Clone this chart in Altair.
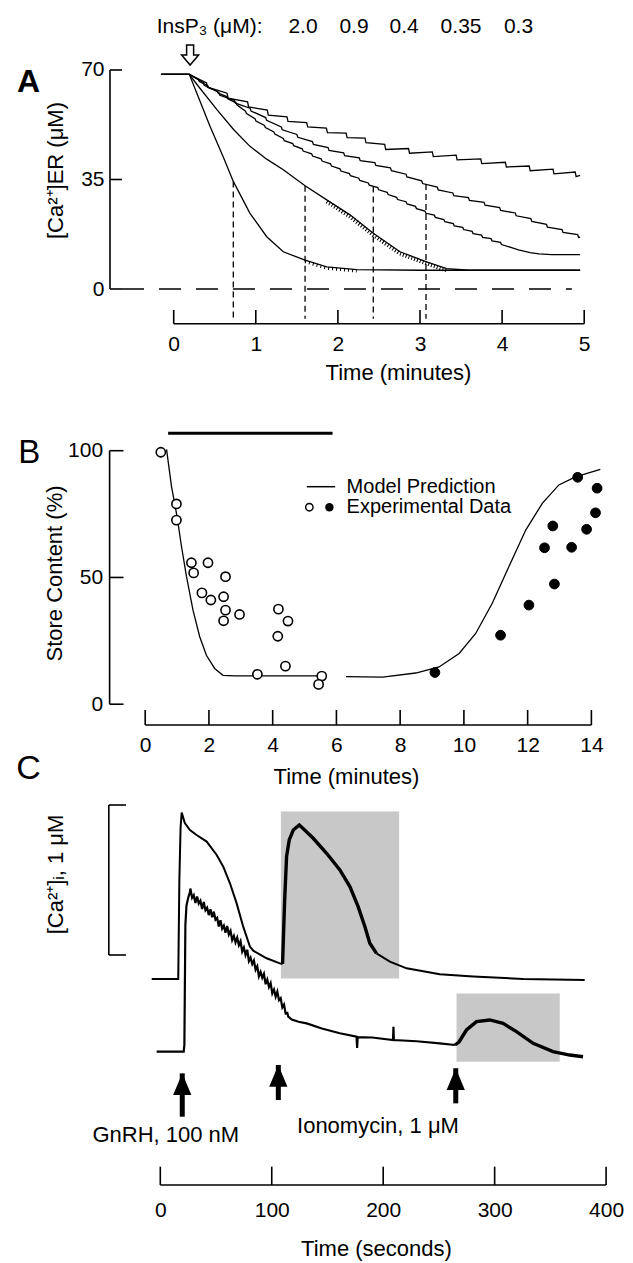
import altair as alt
import pandas as pd

W, H = 633, 1263
FONT = "Liberation Sans"

# ---------------- Panel A : [Ca2+]ER vs time (min) ----------------
A_insp3_text = "InsP\u2083 (\u03bcM):"
A_insp3_vals = ["2.0", "0.9", "0.4", "0.35", "0.3"]
A_insp3_t = [1.575, 2.196, 2.806, 3.50, 4.20]

A_start_t = [-0.15, 0.19]
A_start_v = [68.6, 68.6]

A_c1_t = [0.30, 0.442, 0.60, 0.726, 0.929, 1.133, 1.335, 1.60, 1.864, 2.229, 3.0, 4.95]
A_c1_v = [61.4, 52.0, 42.4, 34.4, 24.2, 16.7, 11.9, 9.2, 7.1, 6.2, 6.0, 6.0]

A_c2_t = [0.30, 0.524, 0.729, 0.929, 1.133, 1.335, 1.60, 1.864, 2.147, 2.431, 2.756, 3.08, 3.325, 3.60, 4.95]
A_c2_v = [64.8, 57.4, 51.0, 45.6, 41.5, 38.1, 33.0, 28.5, 23.7, 17.8, 11.9, 8.7, 6.5, 6.0, 6.0]

A_c3_tt = [0.30, 0.415, 0.53, 0.645, 0.76, 0.875, 0.99, 1.105, 1.22, 1.335, 1.45, 1.565, 1.68,
           1.795, 1.91, 2.025, 2.14, 2.255, 2.37, 2.485, 2.60, 2.715, 2.83, 2.945, 3.06, 3.175,
           3.29, 3.405, 3.52, 3.635, 3.75, 3.865, 3.98]
A_c3_hi = [67.0, 65.0, 63.3, 61.5, 59.5, 56.8, 54.4, 52.3, 50.2, 48.1, 46.5, 44.8, 43.2, 41.6,
           40.0, 38.4, 36.9, 35.4, 33.9, 32.4, 30.9, 29.3, 27.9, 26.4, 24.9, 23.6, 22.2, 20.9,
           19.7, 18.4, 17.2, 16.1, 14.9]
A_c3_lo = [66.3, 64.3, 62.6, 60.8, 58.8, 56.1, 53.7, 51.6, 49.5, 47.4, 45.8, 44.1, 42.5, 40.9,
           39.3, 37.7, 36.2, 34.7, 33.2, 31.7, 30.2, 28.6, 27.2, 25.7, 24.2, 22.9, 21.5, 20.2,
           19.0, 17.7, 16.5, 15.4, 14.2]
A_c3_tail_t = [4.096, 4.2, 4.34, 4.45, 4.6, 4.95]
A_c3_tail_v = [13.4, 12.5, 11.6, 11.2, 11.0, 11.0]

A_c4_tt = [0.36, 0.55, 0.74, 0.93, 1.12, 1.31, 1.50, 1.69, 1.88, 2.07, 2.26, 2.45, 2.64, 2.83,
           3.02, 3.21, 3.40, 3.59, 3.78, 3.97, 4.16, 4.35, 4.54, 4.73, 4.92]
A_c4_hi = [66.0, 62.8, 60.3, 57.8, 54.8, 51.8, 49.4, 47.1, 45.2, 43.5, 41.9, 40.4, 38.7, 36.7,
           34.6, 32.6, 30.7, 29.2, 27.7, 26.0, 24.3, 22.5, 20.7, 19.0, 17.4]
A_c4_lo = [65.1, 61.9, 59.4, 56.9, 53.9, 50.9, 48.5, 46.2, 44.3, 42.6, 41.0, 39.5, 37.8, 35.8,
           33.7, 31.7, 29.8, 28.3, 26.8, 25.1, 23.4, 21.6, 19.8, 18.1, 16.5]
A_c4_tail_t = [4.95]
A_c4_tail_v = [16.6]

A_c5_tt = [0.40, 0.65, 0.90, 1.14, 1.38, 1.62, 1.86, 2.10, 2.33, 2.57, 2.86, 3.15, 3.44, 3.74,
           4.04, 4.33, 4.62, 4.89]
A_c5_hi = [65.9, 62.6, 59.8, 57.2, 55.0, 53.2, 51.4, 49.8, 48.2, 46.2, 44.9, 43.8, 42.8, 41.6,
           40.5, 39.3, 38.3, 37.4]
A_c5_lo = [64.5, 61.0, 58.2, 55.6, 53.6, 51.8, 50.0, 48.4, 46.8, 44.6, 43.4, 42.3, 41.3, 40.1,
           39.0, 37.8, 36.8, 35.9]
A_c5_tail_t = [4.95]
A_c5_tail_v = [36.3]

# hatched (fast-oscillation) stretches of the 0.9 and 2.0 traces
A_h2_t = [1.864, 2.147, 2.431, 2.756, 3.08, 3.325]
A_h2_v = [28.5, 23.7, 17.8, 11.9, 8.7, 6.5]
A_h1_t = [1.60, 1.864, 2.229]
A_h1_v = [9.2, 7.1, 6.2]

A_half_t = [0.726, 1.60, 2.431, 3.073]
A_half_v = [34.4, 33.0, 32.8, 33.6]
A_yticks = [0, 35, 70]
A_xticks = [0, 1, 2, 3, 4, 5]
A_arrow_t = [0.20]

# ---------------- Panel B : store content ----------------
B_model1_t = [0.67, 0.826, 1.0, 1.14, 1.296, 1.5, 1.71, 1.92, 2.18, 2.44, 2.8, 5.6]
B_model1_v = [100.5, 85.8, 74.0, 62.1, 50.3, 37.1, 26.6, 19.3, 14.1, 11.4, 11.2, 11.2]
B_model2_t = [6.3, 7.45, 8.49, 9.22, 9.85, 10.37, 10.89, 11.41, 11.94, 12.46, 12.98, 13.5, 14.28]
B_model2_v = [10.9, 10.7, 12.3, 14.7, 20.0, 27.9, 39.8, 54.2, 68.7, 79.2, 86.5, 89.7, 92.6]
B_open_t = [0.49, 0.98, 0.98, 1.45, 1.52, 1.97, 1.78, 2.06, 2.52, 2.46, 2.52, 2.46, 2.96, 3.52,
            4.18, 4.16, 4.48, 4.40, 5.54, 5.44]
B_open_v = [99.4, 79.0, 72.6, 55.8, 51.8, 55.8, 43.9, 41.1, 50.3, 42.4, 37.1, 32.9, 35.4, 11.8,
            37.5, 26.8, 32.8, 15.0, 11.1, 7.8]
B_fill_t = [9.09, 11.15, 12.04, 12.53, 12.79, 12.84, 13.38, 13.57, 13.85, 14.13, 14.18]
B_fill_v = [12.5, 27.2, 39.1, 61.7, 70.3, 47.4, 61.9, 89.5, 69.0, 75.5, 85.2]
B_bar_t = [0.72, 5.88]
B_yticks = [0, 50, 100]
B_xticks = [0, 2, 4, 6, 8, 10, 12, 14]
B_legend_labels = ["Model Prediction", "Experimental Data"]

# ---------------- Panel C : [Ca2+]i traces (s) ----------------
C_up1_t = [-7.7, 16.1, 17.1, 18.2, 19.2, 22.0, 26.6, 32.6, 41.6, 50.6, 56.5, 62.5, 68.5, 74.4,
           80.4, 83.4, 95.4, 107.3, 109.7]
C_up1_v = [-0.16, -0.16, 0.5, 0.85, 0.949, 0.88, 0.833, 0.80, 0.756, 0.667, 0.589, 0.478, 0.344,
           0.189, 0.056, 0.029, -0.022, -0.056, -0.06]
C_up2_t = [109.7, 111.5, 113.3, 115.7, 119.3, 124.7, 130.0, 137.2, 149.2, 161.1, 170.1, 177.5,
           183.6, 188.0, 194.0]
C_up2_v = [-0.06, 0.35, 0.656, 0.767, 0.833, 0.867, 0.83, 0.778, 0.678, 0.567, 0.456, 0.322,
           0.189, 0.078, 0.011]
C_up3_t = [194.0, 206.0, 221.0, 250.8, 280.7, 325.5, 380.8]
C_up3_v = [0.011, -0.044, -0.089, -0.129, -0.144, -0.16, -0.167]

C_low1_t = [-3.3, 21.0, 21.6, 22.5, 23.5, 25.0, 26.6,
            27, 28.5, 30, 31.5, 33, 34.5, 36, 37.5, 39, 40.5, 42, 43.5, 45, 46.5, 48, 49.5, 51,
            52.5, 54, 55.5, 57, 58.5, 60, 61.5, 63, 64.5, 66, 67.5, 69, 70.5, 72, 73.5, 75, 76.5,
            78, 79.5, 81, 82.5, 84, 85.5, 87, 88.5, 90, 91.5, 93, 94.5, 96, 97.5, 99, 100.5, 102,
            103.5, 105, 106.5, 108, 109.5, 111, 112.5, 114,
            114.8, 118, 124, 131.3, 145, 161.1, 176.1, 176.6, 177.1, 190, 208.8, 209.2, 209.6,
            230, 250.8, 264.3]
C_low1_v = [-0.644, -0.644, -0.6, 0.2, 0.33, 0.38, 0.42,
            0.443, 0.381, 0.399, 0.347, 0.390, 0.343, 0.362, 0.307, 0.353, 0.299, 0.315, 0.266,
            0.305, 0.252, 0.289, 0.236, 0.248, 0.190, 0.232, 0.176, 0.195, 0.149, 0.193, 0.137,
            0.161, 0.100, 0.127, 0.084, 0.115, 0.066, 0.092, 0.023, 0.049, 0.000, 0.035, -0.041,
            -0.018, -0.060, -0.037, -0.098, -0.075, -0.142, -0.113, -0.152, -0.126, -0.195,
            -0.164, -0.213, -0.187, -0.256, -0.231, -0.278, -0.244, -0.301, -0.288, -0.349,
            -0.330, -0.391, -0.387,
            -0.411, -0.43, -0.445, -0.456, -0.49, -0.522, -0.544, -0.62, -0.547, -0.55, -0.567,
            -0.478, -0.567, -0.575, -0.589, -0.6]
C_low2_t = [264.3, 268, 274.7, 283.7, 295.6, 307.6, 319.6, 334.5, 352.4, 367.4, 379.3]
C_low2_v = [-0.6, -0.58, -0.5, -0.444, -0.433, -0.456, -0.511, -0.589, -0.644, -0.667, -0.678]

C_rect_t1 = [108.2, 265.8]
C_rect_t2 = [214.3, 358.4]
C_rect_v1 = [-0.156, -0.711]
C_rect_v2 = [0.956, -0.256]
C_arrow_t = [19.7, 105.9, 265.1]
C_arrow_top = [-0.789, -0.733, -0.755]
C_arrow_bot = [-1.078, -0.967, -0.989]
C_labels = ["GnRH, 100 nM", "Ionomycin, 1 \u03bcM"]
C_label_t = [4.9, 195.3]
C_label_v = [-1.245, -1.185]
C_xticks = [0, 100, 200, 300, 400]

# ---------------- scale calibration (pixel anchors of each panel) ----------------
def sc(x0, xs, y0, ys):
    xd = [(0 - x0) / xs, (W - x0) / xs]
    yd = [(y0 - H) / ys, y0 / ys]
    return (alt.Scale(domain=xd, nice=False, zero=False),
            alt.Scale(domain=yd, nice=False, zero=False))

xA, yA = sc(173.7, 82.1, 289.0, 3.1286)
xB, yB = sc(145.2, 31.87, 704.2, 2.535)
xC, yC = sc(160.3, 1.1145, 955.0, 150.0)

# axis-frame positions in data units
A_YAX_T, A_YTICK_T2 = -0.776, -0.63
A_XAX_V, A_XTICK_V2 = -11.1, -6.7
A_ZERO_T = [-0.63, 4.85]
A_DROP_BOTTOM = -9.5
B_YAX_T, B_YTICK_T2 = -1.117, -0.681
B_XAX_V, B_XTICK_V2 = -8.2, -2.29
B_BAR_V = 106.9
C_BAR_T, C_BAR_T2 = -46.2, -30.8
C_XAX_V, C_XTICK_V2 = -1.533, -1.411


def enc(xs, ys, x="t", y="v", xaxis=None, yaxis=None):
    return dict(x=alt.X(f"{x}:Q", scale=xs, axis=xaxis), y=alt.Y(f"{y}:Q", scale=ys, axis=yaxis))


def line_layer(ts, vs, xs, ys, **mk):
    df = pd.DataFrame({"t": ts, "v": vs, "i": range(len(ts))})
    return alt.Chart(df).mark_line(color="black", **mk).encode(
        **enc(xs, ys), order=alt.Order("i:Q"))


def teeth(tt, hi, lo, tail_t, tail_v):
    ts, vs = list(A_start_t), list(A_start_v)
    for a, h, l in zip(tt, hi, lo):
        ts += [a, a + 0.012]
        vs += [h, l]
    return ts + list(tail_t), vs + list(tail_v)


layers = []

# ======== Panel A ========
layers.append(alt.Chart(pd.DataFrame({"t": [A_ZERO_T[0]], "t2": [A_ZERO_T[1]], "v": [0]}))
              .mark_rule(color="black", strokeWidth=1.5, strokeDash=[22, 15])
              .encode(**enc(xA, yA), x2="t2:Q"))
layers.append(alt.Chart(pd.DataFrame({"t": [A_YAX_T], "v": [0], "v2": [70]}))
              .mark_rule(color="black", strokeWidth=1.6).encode(**enc(xA, yA), y2="v2:Q"))
layers.append(alt.Chart(pd.DataFrame({"t": [A_YAX_T] * 3, "t2": [A_YTICK_T2] * 3, "v": A_yticks}))
              .mark_rule(color="black", strokeWidth=1.6)
              .encode(**enc(xA, yA, yaxis=alt.Axis(
                  orient="left", offset=-110, values=A_yticks, domain=False, ticks=False,
                  tickSize=0, labelPadding=6, labelBaseline="middle",
                  title="[Ca\u00b2\u207a]ER (\u03bcM)", titleAngle=270, titleX=-55, titleY=170,
                  titleAlign="center", titleBaseline="middle")), x2="t2:Q"))
layers.append(alt.Chart(pd.DataFrame({"t": [0], "t2": [5], "v": [A_XAX_V]}))
              .mark_rule(color="black", strokeWidth=1.6).encode(**enc(xA, yA), x2="t2:Q"))
layers.append(alt.Chart(pd.DataFrame({"t": A_xticks, "v": [A_XAX_V] * 6, "v2": [A_XTICK_V2] * 6}))
              .mark_rule(color="black", strokeWidth=1.6)
              .encode(**enc(xA, yA, xaxis=alt.Axis(
                  orient="bottom", offset=323.3 - H, values=A_xticks, format="d", domain=False,
                  ticks=False, tickSize=0, labelPadding=10, title="Time (minutes)",
                  titleX=398, titleY=49, titleAlign="center", titleBaseline="middle")),
                  y2="v2:Q"))

layers.append(line_layer(A_start_t + A_c1_t, A_start_v + A_c1_v, xA, yA, strokeWidth=1.3))
layers.append(line_layer(A_start_t + A_c2_t, A_start_v + A_c2_v, xA, yA, strokeWidth=1.3))
layers.append(line_layer(A_h2_t, A_h2_v, xA, yA, strokeWidth=4, strokeDash=[1, 2], yOffset=1.8))
layers.append(line_layer(A_h1_t, A_h1_v, xA, yA, strokeWidth=3, strokeDash=[1, 3], yOffset=1.5))
for tt, hi, lo, tl, tv in [(A_c3_tt, A_c3_hi, A_c3_lo, A_c3_tail_t, A_c3_tail_v),
                           (A_c4_tt, A_c4_hi, A_c4_lo, A_c4_tail_t, A_c4_tail_v),
                           (A_c5_tt, A_c5_hi, A_c5_lo, A_c5_tail_t, A_c5_tail_v)]:
    ts, vs = teeth(tt, hi, lo, tl, tv)
    layers.append(line_layer(ts, vs, xA, yA, strokeWidth=1.3))

layers.append(alt.Chart(pd.DataFrame({"t": A_half_t, "v": A_half_v,
                                      "v2": [A_DROP_BOTTOM] * len(A_half_t)}))
              .mark_rule(color="black", strokeWidth=1.3, strokeDash=[6, 4])
              .encode(**enc(xA, yA), y2="v2:Q"))

layers.append(alt.Chart(pd.DataFrame({"t": A_arrow_t, "v": [78.0]}))
              .mark_point(shape="M-0.35,0L0.35,0L0.35,1L0.85,1L0,2L-0.85,1L-0.35,1Z",
                          size=400, filled=True, fill="white", stroke="black", strokeWidth=1.5,
                          opacity=1)
              .encode(**enc(xA, yA)))

layers.append(alt.Chart(pd.DataFrame({"t": [-0.207], "v": [81.7], "s": [A_insp3_text]}))
              .mark_text(font=FONT, fontSize=21, align="left", baseline="alphabetic",
                         color="black")
              .encode(**enc(xA, yA), text="s:N"))
layers.append(alt.Chart(pd.DataFrame({"t": A_insp3_t, "v": [81.7] * 5, "s": A_insp3_vals}))
              .mark_text(font=FONT, fontSize=21, align="center", baseline="alphabetic",
                         color="black")
              .encode(**enc(xA, yA), text="s:N"))
layers.append(alt.Chart(pd.DataFrame({"t": [-1.769], "v": [63.1], "s": ["A"]}))
              .mark_text(font=FONT, fontSize=32, fontWeight="bold", align="center",
                         baseline="alphabetic", color="black")
              .encode(**enc(xA, yA), text="s:N"))

# ======== Panel B ========
layers.append(alt.Chart(pd.DataFrame({"t": [B_YAX_T], "v": [0], "v2": [100]}))
              .mark_rule(color="black", strokeWidth=1.6).encode(**enc(xB, yB), y2="v2:Q"))
layers.append(alt.Chart(pd.DataFrame({"t": [B_YAX_T] * 3, "t2": [B_YTICK_T2] * 3, "v": B_yticks}))
              .mark_rule(color="black", strokeWidth=1.6)
              .encode(**enc(xB, yB, yaxis=alt.Axis(
                  orient="left", offset=-109.6, values=B_yticks, domain=False, ticks=False,
                  tickSize=0, labelPadding=7, labelBaseline="middle",
                  title="Store Content (%)", titleAngle=270, titleX=-55.6, titleY=573,
                  titleAlign="center", titleBaseline="middle")), x2="t2:Q"))
layers.append(alt.Chart(pd.DataFrame({"t": [0], "t2": [14], "v": [B_XAX_V]}))
              .mark_rule(color="black", strokeWidth=1.6).encode(**enc(xB, yB), x2="t2:Q"))
layers.append(alt.Chart(pd.DataFrame({"t": B_xticks, "v": [B_XAX_V] * 8, "v2": [B_XTICK_V2] * 8}))
              .mark_rule(color="black", strokeWidth=1.6)
              .encode(**enc(xB, yB, xaxis=alt.Axis(
                  orient="bottom", offset=725 - H, values=B_xticks, format="d", domain=False,
                  ticks=False, tickSize=0, labelPadding=9, title="Time (minutes)",
                  titleX=346, titleY=51, titleAlign="center", titleBaseline="middle")),
                  y2="v2:Q"))
layers.append(alt.Chart(pd.DataFrame({"t": [B_bar_t[0]], "t2": [B_bar_t[1]], "v": [B_BAR_V]}))
              .mark_rule(color="black", strokeWidth=3).encode(**enc(xB, yB), x2="t2:Q"))
layers.append(line_layer(B_model1_t, B_model1_v, xB, yB, strokeWidth=1.3))
layers.append(line_layer(B_model2_t, B_model2_v, xB, yB, strokeWidth=1.3))
layers.append(alt.Chart(pd.DataFrame({"t": B_open_t, "v": B_open_v}))
              .mark_point(shape="circle", size=85, filled=True, fill="white", stroke="black",
                          strokeWidth=1.6, opacity=1)
              .encode(**enc(xB, yB)))
layers.append(alt.Chart(pd.DataFrame({"t": B_fill_t, "v": B_fill_v}))
              .mark_point(shape="circle", size=95, filled=True, fill="black", stroke="black",
                          strokeWidth=1, opacity=1)
              .encode(**enc(xB, yB)))
# legend
layers.append(alt.Chart(pd.DataFrame({"t": [5.07], "t2": [5.96], "v": [85.8]}))
              .mark_rule(color="black", strokeWidth=1.5).encode(**enc(xB, yB), x2="t2:Q"))
layers.append(alt.Chart(pd.DataFrame({"t": [5.15], "v": [77.7]}))
              .mark_point(shape="circle", size=55, filled=True, fill="white", stroke="black",
                          strokeWidth=1.4, opacity=1).encode(**enc(xB, yB)))
layers.append(alt.Chart(pd.DataFrame({"t": [5.78], "v": [77.7]}))
              .mark_point(shape="circle", size=70, filled=True, fill="black", opacity=1)
              .encode(**enc(xB, yB)))
layers.append(alt.Chart(pd.DataFrame({"t": [6.32, 6.32], "v": [85.8, 77.7], "s": B_legend_labels}))
              .mark_text(font=FONT, fontSize=20, align="left", baseline="middle", color="black")
              .encode(**enc(xB, yB), text="s:N"))
layers.append(alt.Chart(pd.DataFrame({"t": [-3.636], "v": [95.0], "s": ["B"]}))
              .mark_text(font=FONT, fontSize=33, align="center", baseline="alphabetic",
                         color="black")
              .encode(**enc(xB, yB), text="s:N"))

# ======== Panel C ========
layers.append(alt.Chart(pd.DataFrame({"t": C_rect_t1, "t2": C_rect_t2, "v": C_rect_v1,
                                      "v2": C_rect_v2}))
              .mark_rect(color="#c8c8c8", opacity=1)
              .encode(**enc(xC, yC), x2="t2:Q", y2="v2:Q"))
layers.append(alt.Chart(pd.DataFrame({"t": [C_BAR_T], "v": [0], "v2": [1]}))
              .mark_rule(color="black", strokeWidth=1.6)
              .encode(**enc(xC, yC, yaxis=alt.Axis(
                  orient="left", offset=-108.8, labels=False, domain=False, ticks=False,
                  tickSize=0, title="[Ca\u00b2\u207a]\u1d62, 1 \u03bcM", titleAngle=270,
                  titleX=-53, titleY=874, titleAlign="center", titleBaseline="middle")),
                  y2="v2:Q"))
layers.append(alt.Chart(pd.DataFrame({"t": [C_BAR_T] * 2, "t2": [C_BAR_T2] * 2, "v": [0, 1]}))
              .mark_rule(color="black", strokeWidth=1.6).encode(**enc(xC, yC), x2="t2:Q"))
layers.append(alt.Chart(pd.DataFrame({"t": [0], "t2": [400], "v": [C_XAX_V]}))
              .mark_rule(color="black", strokeWidth=1.6).encode(**enc(xC, yC), x2="t2:Q"))
layers.append(alt.Chart(pd.DataFrame({"t": C_xticks, "v": [C_XAX_V] * 5, "v2": [C_XTICK_V2] * 5}))
              .mark_rule(color="black", strokeWidth=1.6)
              .encode(**enc(xC, yC, xaxis=alt.Axis(
                  orient="bottom", offset=1185 - H, values=C_xticks, format="d", domain=False,
                  ticks=False, tickSize=0, labelPadding=14, title="Time (seconds)",
                  titleX=376, titleY=63, titleAlign="center", titleBaseline="middle")),
                  y2="v2:Q"))
layers.append(line_layer(C_up1_t, C_up1_v, xC, yC, strokeWidth=2))
layers.append(line_layer(C_up2_t, C_up2_v, xC, yC, strokeWidth=3.4))
layers.append(line_layer(C_up3_t, C_up3_v, xC, yC, strokeWidth=2))
layers.append(line_layer(C_low1_t, C_low1_v, xC, yC, strokeWidth=2.2))
layers.append(line_layer(C_low2_t, C_low2_v, xC, yC, strokeWidth=3.4))
layers.append(alt.Chart(pd.DataFrame({"t": C_arrow_t, "v": C_arrow_top, "v2": C_arrow_bot}))
              .mark_rule(color="black", strokeWidth=5).encode(**enc(xC, yC), y2="v2:Q"))
layers.append(alt.Chart(pd.DataFrame({"t": C_arrow_t, "v": C_arrow_top}))
              .mark_point(shape="M0,0L0.84,2L-0.84,2Z", size=471, filled=True, fill="black",
                          opacity=1)
              .encode(**enc(xC, yC)))
layers.append(alt.Chart(pd.DataFrame({"t": C_label_t, "v": C_label_v, "s": C_labels}))
              .mark_text(font=FONT, fontSize=22, align="center", baseline="alphabetic",
                         color="black")
              .encode(**enc(xC, yC), text="s:N"))
layers.append(alt.Chart(pd.DataFrame({"t": [-118.3], "v": [1.173], "s": ["C"]}))
              .mark_text(font=FONT, fontSize=34, align="center", baseline="alphabetic",
                         color="black")
              .encode(**enc(xC, yC), text="s:N"))

chart = (alt.layer(*layers)
         .resolve_scale(x="independent", y="independent")
         .properties(width=W, height=H, padding=0, background="white",
                     autosize=alt.AutoSizeParams(type="none"))
         .configure_view(stroke=None)
         .configure_axis(labelFont=FONT, titleFont=FONT, labelColor="black",
                         titleColor="black", titleFontWeight="normal", labelFontSize=21,
                         titleFontSize=22, grid=False))

chart.save("out.html", embed_options={"renderer": "svg", "actions": False})
